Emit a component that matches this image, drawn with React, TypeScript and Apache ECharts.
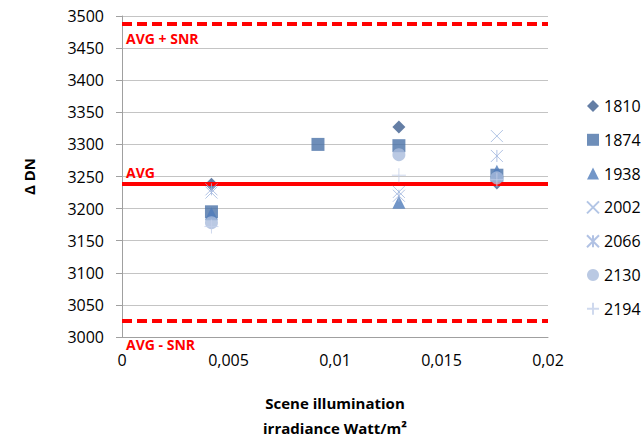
import React, { useEffect, useRef } from "react";
import * as echarts from "echarts";

const xValues = [0.0042, 0.0092, 0.013, 0.0176];
const seriesNames = ["1810", "1874", "1938", "2002", "2066", "2130", "2194"];
const s1810 = [3238, null, 3327, 3240];
const s1874 = [3195, 3300, 3298, 3252];
const s1938 = [3192, null, 3210, 3258];
const s2002 = [3225, null, 3226, 3313];
const s2066 = [3230, null, 3220, 3282];
const s2130 = [3178, null, 3284, 3248];
const s2194 = [3172, null, 3252, 3245];
const avg = 3238;
const avgPlus = 3488;
const avgMinus = 3025;

const FONT = "Open Sans";

const X_PATH = "path://M0,0L10,10M10,0L0,10";
const AST_PATH = "path://M0,0L10,10M10,0L0,10M5,0L5,10";
const PLUS_PATH = "path://M5,0L5,10M0,5L10,5";

export default function App() {
  const ref = useRef<HTMLDivElement>(null);
  useEffect(() => {
    const chart = echarts.init(ref.current!, null, { renderer: "svg" });
    const all = [s1810, s1874, s1938, s2002, s2066, s2130, s2194];
    const styles: any[] = [
      { symbol: "diamond", size: 13, item: { color: "#3d5e8e" } },
      { symbol: "rect", size: 13, item: { color: "#4a72a8" } },
      { symbol: "triangle", size: 13, item: { color: "#4f7cba" } },
      { symbol: X_PATH, size: 12, item: { color: "transparent", borderColor: "#9fb6df", borderWidth: 1 } },
      { symbol: AST_PATH, size: 12, item: { color: "transparent", borderColor: "#9db3dd", borderWidth: 1 } },
      { symbol: "circle", size: 13, item: { color: "#a9bbdc" } },
      { symbol: PLUS_PATH, size: 14, item: { color: "transparent", borderColor: "#c3d0ea", borderWidth: 1 } },
    ];
    const scatter = seriesNames.map((name, i) => ({
      name,
      type: "scatter",
      symbol: styles[i].symbol,
      symbolSize: styles[i].size,
      itemStyle: styles[i].item,
      z: 3 + i,
      data: xValues
        .map((x, j) => (all[i][j] == null ? null : [x, all[i][j]]))
        .filter((d) => d !== null),
    }));
    const lblBase = {
      show: true,
      color: "#ff0000",
      fontWeight: "bold",
      fontFamily: FONT,
      fontSize: 14,
    };
    chart.setOption({
      animation: false,
      grid: { left: 122, right: 95, top: 16, bottom: 101, containLabel: false, outerBoundsMode: "none" },
      legend: {
        orient: "vertical",
        left: 581,
        top: 93,
        itemWidth: 12,
        itemHeight: 12,
        itemGap: 17.8,
        data: seriesNames,
        textStyle: { fontFamily: FONT, fontSize: 16, color: "#000" },
      },
      xAxis: {
        type: "value",
        min: 0,
        max: 0.02,
        interval: 0.005,
        name: "Scene illumination\nirradiance Watt/m²",
        nameLocation: "middle",
        nameGap: 53,
        nameTextStyle: { fontFamily: FONT, fontSize: 15, fontWeight: "bold", color: "#000", lineHeight: 25 },
        axisLine: { show: true, lineStyle: { color: "#a0a0a0" } },
        axisTick: { show: false },
        splitLine: { show: false },
        axisLabel: {
          fontFamily: FONT,
          fontSize: 16,
          color: "#000",
          margin: 15,
          formatter: (v: number) => String(Number(v.toFixed(4))).replace(".", ","),
        },
      },
      yAxis: {
        type: "value",
        min: 3000,
        max: 3500,
        interval: 50,
        name: "Δ DN",
        nameLocation: "middle",
        nameGap: 86,
        nameTextStyle: { fontFamily: FONT, fontSize: 15, fontWeight: "bold", color: "#000" },
        axisLine: { show: true, lineStyle: { color: "#a0a0a0" } },
        axisTick: { show: true, length: 6, lineStyle: { color: "#a0a0a0" } },
        splitLine: { show: true, lineStyle: { color: "#c4c4c4", width: 1 } },
        axisLabel: {
          fontFamily: FONT,
          fontSize: 16,
          color: "#000",
          margin: 18,
          formatter: (v: number) => String(v),
        },
      },
      series: [
        {
          name: "limits",
          type: "line",
          data: [],
          z: 2,
          markLine: {
            silent: true,
            symbol: "none",
            data: [
              {
                yAxis: avgPlus,
                lineStyle: { color: "#ff0000", width: 4, type: [10, 5] },
                label: { ...lblBase, formatter: "AVG + SNR", position: "insideStartBottom", distance: [4, 8] },
              },
              {
                yAxis: avg,
                lineStyle: { color: "#ff0000", width: 4, type: "solid" },
                label: { ...lblBase, formatter: "AVG", position: "insideStartTop", distance: [4, 5] },
              },
              {
                yAxis: avgMinus,
                lineStyle: { color: "#ff0000", width: 4, type: [10, 5] },
                label: { ...lblBase, formatter: "AVG - SNR", position: "insideStartBottom", distance: [4, 17] },
              },
            ],
          },
        },
        ...scatter,
      ],
    });
    return () => chart.dispose();
  }, []);
  return (
    <div
      ref={ref}
      style={{ position: "fixed", left: 0, top: 0, width: 643, height: 438, background: "#fff" }}
    />
  );
}
